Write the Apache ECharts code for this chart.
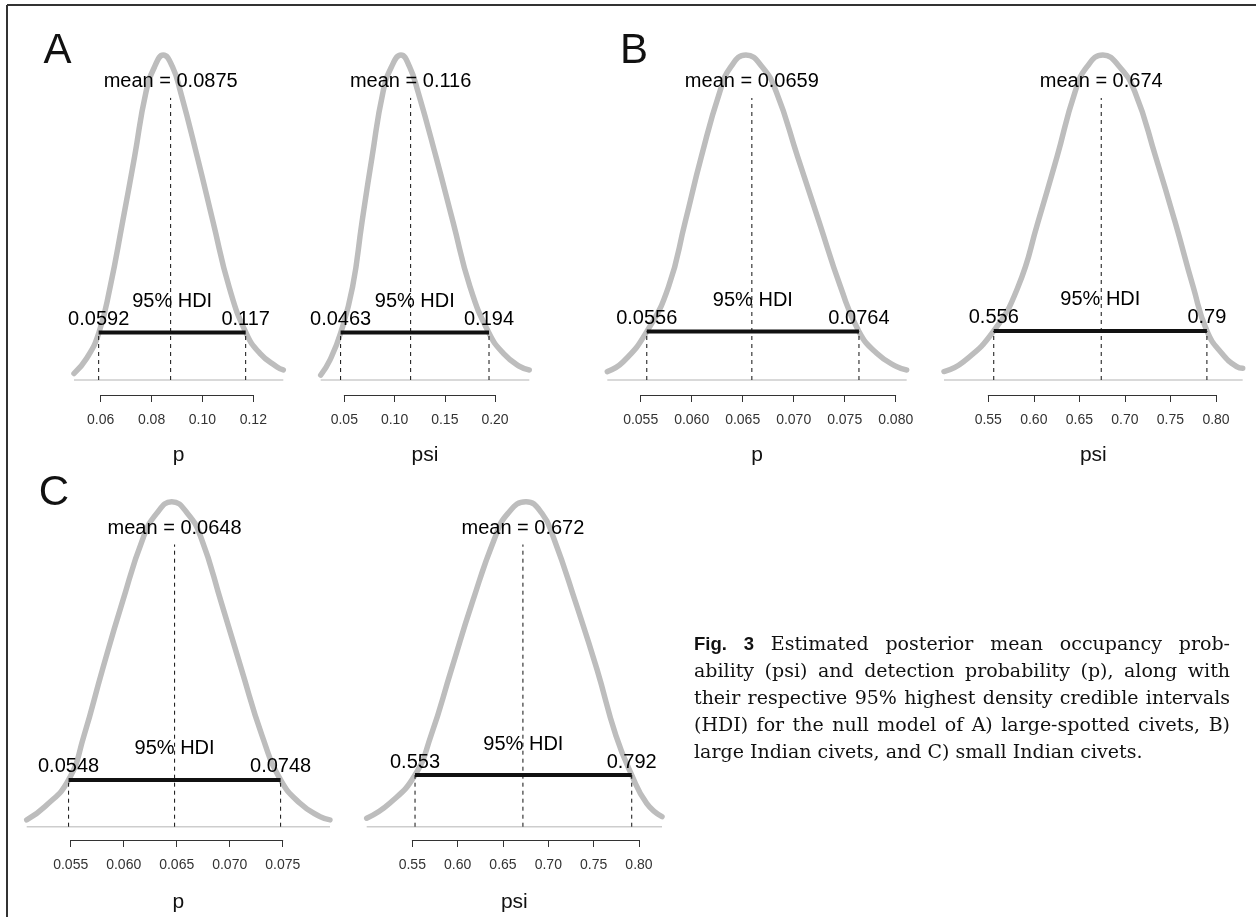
<!DOCTYPE html>
<html>
<head>
<meta charset="utf-8">
<script src="https://cdn.jsdelivr.net/npm/echarts@6.0.0/dist/echarts.min.js"></script>
<style>
html,body{margin:0;padding:0;background:#ffffff;}
#chart{width:1256px;height:917px;}
</style>
</head>
<body>
<div id="chart"></div>
<script>
// ---------------- DATA ----------------
const panelLetters = ['A', 'B', 'C'];
const xLabels = ['p', 'psi', 'p', 'psi', 'p', 'psi'];
const means = [0.0875, 0.116, 0.0659, 0.674, 0.0648, 0.672];
const hdiLow = [0.0592, 0.0463, 0.0556, 0.556, 0.0548, 0.553];
const hdiHigh = [0.117, 0.194, 0.0764, 0.79, 0.0748, 0.792];
// relative posterior density (peak = 1) at the HDI limits
const hdiDensity = [0.146, 0.146, 0.149, 0.151, 0.144, 0.159];

// tick labels of each panel
const ticksAp = ['0.06', '0.08', '0.10', '0.12'];
const ticksApsi = ['0.05', '0.10', '0.15', '0.20'];
const ticksBp = ['0.055', '0.060', '0.065', '0.070', '0.075', '0.080'];
const ticksBpsi = ['0.55', '0.60', '0.65', '0.70', '0.75', '0.80'];
const ticksCp = ['0.055', '0.060', '0.065', '0.070', '0.075'];
const ticksCpsi = ['0.55', '0.60', '0.65', '0.70', '0.75', '0.80'];

// posterior density curves: [value, relative density]
const curveAp = [[0.0495,0.020],[0.0545,0.067],[0.0593,0.146],[0.0637,0.286],[0.0686,0.486],[0.0733,0.686],[0.0778,0.886],[0.0812,0.964],[0.0846,1.000],[0.0882,0.964],[0.0914,0.886],[0.0980,0.686],[0.1042,0.486],[0.1105,0.286],[0.1171,0.146],[0.1226,0.082],[0.1292,0.041],[0.1318,0.031]];
const curveApsi = [[0.0265,0.015],[0.0358,0.062],[0.0465,0.146],[0.0582,0.286],[0.0676,0.486],[0.0776,0.686],[0.0885,0.886],[0.0970,0.964],[0.1064,1.000],[0.1149,0.964],[0.1234,0.886],[0.1413,0.686],[0.1582,0.486],[0.1752,0.286],[0.1937,0.146],[0.2083,0.082],[0.2249,0.041],[0.2341,0.031]];
const curveBp = [[0.05173,0.026],[0.05329,0.056],[0.0556,0.149],[0.05772,0.286],[0.05936,0.486],[0.06094,0.686],[0.06275,0.886],[0.06385,0.964],[0.06532,1.000],[0.06690,0.964],[0.06830,0.886],[0.07040,0.686],[0.07250,0.486],[0.0746,0.286],[0.0764,0.149],[0.07814,0.082],[0.0801,0.041],[0.08108,0.031]];
const curveBpsi = [[0.5014,0.026],[0.5226,0.056],[0.556,0.151],[0.5826,0.286],[0.6046,0.486],[0.6254,0.686],[0.6452,0.886],[0.6584,0.964],[0.6758,1.000],[0.6940,0.964],[0.7110,0.886],[0.7338,0.686],[0.7551,0.486],[0.775,0.286],[0.79,0.151],[0.8063,0.082],[0.8227,0.041],[0.8293,0.036]];
const curveCp = [[0.05085,0.021],[0.05258,0.062],[0.0548,0.144],[0.05625,0.280],[0.0580,0.484],[0.05984,0.687],[0.06185,0.890],[0.06311,0.964],[0.06453,1.000],[0.06602,0.964],[0.06729,0.890],[0.06923,0.687],[0.07111,0.484],[0.07305,0.280],[0.0748,0.144],[0.07663,0.072],[0.07852,0.031],[0.07946,0.021]];
const curveCpsi = [[0.4997,0.026],[0.5254,0.073],[0.553,0.159],[0.5706,0.280],[0.5932,0.484],[0.6158,0.687],[0.6412,0.890],[0.6555,0.964],[0.6754,1.000],[0.6930,0.964],[0.7057,0.890],[0.7305,0.687],[0.7537,0.484],[0.7746,0.280],[0.792,0.159],[0.8085,0.072],[0.8254,0.031]];

const captionLead = ['Fig.', '3'];
const captionLines = [
  'Estimated posterior mean occupancy prob-',
  'ability (psi) and detection probability (p), along with',
  'their respective 95% highest density credible intervals',
  '(HDI) for the null model of A) large-spotted civets, B)',
  'large Indian civets, and C) small Indian civets.'
];

// ---------------- LAYOUT ----------------
const curves = [curveAp, curveApsi, curveBp, curveBpsi, curveCp, curveCpsi];
const tickSets = [ticksAp, ticksApsi, ticksBp, ticksBpsi, ticksCp, ticksCpsi];
const panelBox = [
  {row: 0, left: 74, right: 283.3},
  {row: 0, left: 320.7, right: 529.3},
  {row: 0, left: 607.3, right: 906.7},
  {row: 0, left: 944, right: 1242.7},
  {row: 1, left: 26.7, right: 330},
  {row: 1, left: 366.7, right: 662}
];
const rows = [
  {top: 55, bottom: 380, axisY: 395},
  {top: 501.7, bottom: 826.7, axisY: 840}
];
const letterPos = [[57.5, 51], [634, 51], [54, 493.5]];
const meanLineTop = 0.868;
const FONT = '"Liberation Sans", Arial, sans-serif';
const TXT = '#000000';

const grids = [], xAxes = [], yAxes = [], series = [];

curves.forEach((curve, i) => {
  const box = panelBox[i];
  const row = rows[box.row];
  const xmin = curve[0][0], xmax = curve[curve.length - 1][0];
  const scale = (box.right - box.left) / (xmax - xmin);
  const ticks = tickSets[i];
  const t0 = parseFloat(ticks[0]), tN = parseFloat(ticks[ticks.length - 1]);
  const step = parseFloat(ticks[1]) - t0;
  const g = grids.length;
  // plot grid
  grids.push({left: box.left, top: row.top, width: box.right - box.left, height: row.bottom - row.top, containLabel: false, outerBoundsMode: 'none'});
  xAxes.push({gridIndex: g, type: 'value', min: xmin, max: xmax,
    axisLine: {show: false}, axisTick: {show: false}, axisLabel: {show: false}, splitLine: {show: false},
    name: xLabels[i], nameLocation: 'middle', nameGap: 65,
    nameTextStyle: {fontSize: 21, color: '#111', fontFamily: FONT}});
  yAxes.push({gridIndex: g, type: 'value', min: 0, max: 1, show: false});
  // axis grid (R style axis from first to last tick)
  const aLeft = box.left + (t0 - xmin) * scale;
  const aWidth = (tN - t0) * scale;
  grids.push({left: aLeft, top: row.axisY - 1, width: aWidth, height: 1, containLabel: false, outerBoundsMode: 'none'});
  xAxes.push({gridIndex: g + 1, type: 'value', min: t0, max: tN, interval: step,
    axisLine: {show: true, lineStyle: {color: '#333', width: 1}},
    axisTick: {show: true, length: 7, lineStyle: {color: '#333', width: 1}},
    axisLabel: {show: true, margin: 18, fontSize: 14, color: '#333', fontFamily: FONT,
      formatter: v => { const f = ticks.find(l => Math.abs(parseFloat(l) - v) < 1e-9); return f === undefined ? '' : f; }},
    splitLine: {show: false}});
  yAxes.push({gridIndex: g + 1, type: 'value', min: 0, max: 1, show: false});

  const common = {xAxisIndex: g, yAxisIndex: g, symbol: 'none', showSymbol: false, silent: true, animation: false, clip: false};
  const h = hdiDensity[i];
  // baseline
  series.push(Object.assign({}, common, {type: 'line', z: 1, data: [[xmin, 0], [xmax, 0]],
    lineStyle: {color: '#cdcdcd', width: 1.5}}));
  // density curve
  series.push(Object.assign({}, common, {type: 'line', z: 2, smooth: 0.5, data: curve,
    lineStyle: {color: '#bdbdbd', width: 5.5, cap: 'round', join: 'round'}}));
  // dashed reference lines
  const dash = {color: '#111', width: 1, type: [4, 4]};
  series.push(Object.assign({}, common, {type: 'line', z: 3, data: [[means[i], 0], [means[i], meanLineTop]], lineStyle: dash}));
  series.push(Object.assign({}, common, {type: 'line', z: 3, data: [[hdiLow[i], 0], [hdiLow[i], h]], lineStyle: dash}));
  series.push(Object.assign({}, common, {type: 'line', z: 3, data: [[hdiHigh[i], 0], [hdiHigh[i], h]], lineStyle: dash}));
  // HDI bar
  series.push(Object.assign({}, common, {type: 'line', z: 4, data: [[hdiLow[i], h], [hdiHigh[i], h]],
    lineStyle: {color: '#111', width: 4, cap: 'butt'}}));
  // text annotations
  const lbl = {show: true, position: 'inside', formatter: '{b}', fontSize: 20, color: TXT, fontFamily: FONT, textBorderWidth: 0};
  series.push({type: 'scatter', xAxisIndex: g, yAxisIndex: g, z: 5, silent: true, animation: false, clip: false,
    symbolSize: 0, itemStyle: {color: '#000', opacity: 1},
    label: lbl,
    data: [
      {name: 'mean = ' + String(means[i]), value: [means[i], meanLineTop], label: {offset: [0, -16]}},
      {name: '95% HDI', value: [(hdiLow[i] + hdiHigh[i]) / 2, h], label: {offset: [0, -31]}},
      {name: String(hdiLow[i]), value: [hdiLow[i], h], label: {offset: [0, -13]}},
      {name: String(hdiHigh[i]), value: [hdiHigh[i], h], label: {offset: [0, -13]}}
    ]});
});

// ---------------- GRAPHIC: frame, panel letters, caption ----------------
const graphics = [];
graphics.push({type: 'line', shape: {x1: 7, y1: 5, x2: 1256, y2: 5}, style: {stroke: '#333', lineWidth: 2}, silent: true});
graphics.push({type: 'line', shape: {x1: 7, y1: 5, x2: 7, y2: 917}, style: {stroke: '#333', lineWidth: 2}, silent: true});
panelLetters.forEach((L, k) => {
  graphics.push({type: 'text', x: letterPos[k][0], y: letterPos[k][1], silent: true,
    style: {text: L, font: '42px ' + FONT, fill: '#111', textAlign: 'center', textVerticalAlign: 'middle'}});
});

const cv = document.createElement('canvas').getContext('2d');
function textW(t, font) { cv.font = font; return cv.measureText(t).width; }
const SERIF = '"DejaVu Serif", "Liberation Serif", serif';
const capLeft = 694, capRight = 1230, capTop = 645, capLineH = 27;
const boldFontCap = 'bold 18.5px ' + FONT;
function lineTokens(i, size) {
  const toks = captionLines[i].split(' ').map(w => ({t: w, font: size + 'px ' + SERIF, serif: true}));
  if (i === 0) {
    toks.unshift({t: captionLead[0], font: boldFontCap}, {t: captionLead[1], font: boldFontCap});
  }
  return toks;
}
// font size so the tightest justified line fits the column
let capSize = 19;
for (let i = 0; i < captionLines.length - 1; i++) {
  const toks = lineTokens(i, 100);
  let serifW = 0, fixedW = 0;
  toks.forEach(k => { if (k.serif) serifW += textW(k.t, k.font); else fixedW += textW(k.t, k.font); });
  serifW += textW(' ', '100px ' + SERIF) * (toks.length - 1);
  capSize = Math.min(capSize, 100 * (capRight - capLeft - fixedW) / serifW);
}
captionLines.forEach((line, i) => {
  const toks = lineTokens(i, capSize);
  const ws = toks.map(k => textW(k.t, k.font));
  const total = ws.reduce((a, b) => a + b, 0);
  const justify = i < captionLines.length - 1;
  const gap = justify ? (capRight - capLeft - total) / (toks.length - 1) : textW(' ', capSize + 'px ' + SERIF);
  let x = capLeft;
  toks.forEach((k, j) => {
    graphics.push({type: 'text', x: x, y: capTop + i * capLineH, silent: true,
      style: {text: k.t, font: k.font, fill: '#111', textAlign: 'left', textVerticalAlign: 'middle'}});
    x += ws[j] + gap;
  });
});

const chart = echarts.init(document.getElementById('chart'), null, {renderer: 'canvas', width: 1256, height: 917});
chart.setOption({
  animation: false,
  backgroundColor: '#ffffff',
  grid: grids,
  xAxis: xAxes,
  yAxis: yAxes,
  series: series,
  graphic: {elements: graphics}
});
</script>
</body>
</html>
